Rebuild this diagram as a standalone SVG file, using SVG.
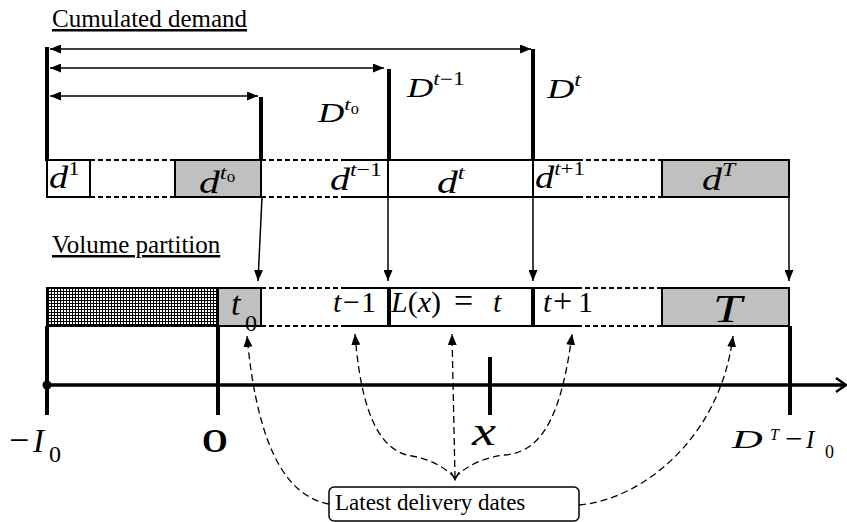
<svg xmlns="http://www.w3.org/2000/svg" width="847" height="522" viewBox="0 0 847 522">
<defs>
<style>
text{font-family:"Liberation Serif","Times New Roman",serif;fill:#000}
.lbl{font-size:25px;text-decoration:underline}
.it{font-style:italic}
.up{font-style:normal}
.cell{stroke:#000;stroke-width:2;fill:none}
.gray{fill:#c0c0c0;stroke:#000;stroke-width:2}
.dash{stroke:#000;stroke-width:2;stroke-dasharray:5 3;fill:none}
.thick{stroke:#000;stroke-width:4}
.arr{stroke:#000;stroke-width:1.5;fill:none}
.cur{stroke:#000;stroke-width:1.3;fill:none;stroke-dasharray:7 4}
</style>
<marker id="ah" markerUnits="userSpaceOnUse" markerWidth="11" markerHeight="9" refX="11" refY="4.5" orient="auto-start-reverse">
<path d="M0,0 L11,4.5 L0,9 z" fill="#000"/>
</marker>
<pattern id="hatch" width="3" height="3" patternUnits="userSpaceOnUse">
<rect width="3" height="3" fill="#fff"/>
<path d="M0,0.5 H3 M0.5,0 V3" stroke="#000" stroke-width="1"/>
</pattern>
</defs>
<rect width="847" height="522" fill="#fff"/>

<g id="titles">
<text class="lbl" x="52" y="27">Cumulated demand</text>
<text class="lbl" x="52" y="253">Volume partition</text>
</g>

<g id="cumulative-marks">
<line class="thick" x1="47" y1="47" x2="47" y2="161"/>
<line class="thick" x1="261" y1="97" x2="261" y2="161"/>
<line class="thick" x1="389" y1="69" x2="389" y2="161"/>
<line class="thick" x1="533" y1="49" x2="533" y2="161"/>
<g transform="translate(318,122) scale(1.35,1)"><text class="it" font-size="27">D<tspan font-size="17" dy="-12">t</tspan><tspan class="up" font-size="12" dy="4">0</tspan></text></g>
<g transform="translate(407,97) scale(1.3,1)"><text class="it" font-size="28">D<tspan font-size="18" dy="-12">t</tspan><tspan class="up" font-size="18">−1</tspan></text></g>
<g transform="translate(547,98) scale(1.35,1)"><text class="it" font-size="28">D<tspan font-size="18" dy="-12">t</tspan></text></g>
</g>

<g id="demand-row">
<rect class="cell" x="47" y="160" width="43" height="37"/>
<line class="dash" x1="90" y1="160" x2="175" y2="160"/>
<line class="dash" x1="90" y1="197" x2="175" y2="197"/>
<rect class="gray" x="175" y="160" width="86" height="37"/>
<line class="dash" x1="261" y1="160" x2="342" y2="160"/>
<line class="dash" x1="261" y1="197" x2="342" y2="197"/>
<line class="cell" x1="342" y1="160" x2="388" y2="160"/>
<line class="cell" x1="342" y1="197" x2="388" y2="197"/>
<rect class="cell" x="388" y="160" width="145" height="37"/>
<line class="cell" x1="533" y1="160" x2="578" y2="160"/>
<line class="cell" x1="533" y1="197" x2="578" y2="197"/>
<line class="dash" x1="578" y1="160" x2="662" y2="160"/>
<line class="dash" x1="578" y1="197" x2="662" y2="197"/>
<rect class="gray" x="662" y="160" width="127" height="37"/>
<g transform="translate(49,188) scale(1.2,1)"><text class="it" font-size="32">d<tspan class="up" font-size="19" dy="-13">1</tspan></text></g>
<g transform="translate(199,193) scale(1.3,1)"><text class="it" font-size="32">d<tspan font-size="19" dy="-14">t</tspan><tspan class="up" font-size="13" dy="3">0</tspan></text></g>
<g transform="translate(330,190) scale(1.25,1)"><text class="it" font-size="32">d<tspan font-size="19" dy="-14">t</tspan><tspan class="up" font-size="19">−1</tspan></text></g>
<g transform="translate(437,193) scale(1.3,1)"><text class="it" font-size="32">d<tspan font-size="19" dy="-14">t</tspan></text></g>
<g transform="translate(535,188) scale(1.2,1)"><text class="it" font-size="32">d<tspan font-size="19" dy="-13">t</tspan><tspan class="up" font-size="19">+1</tspan></text></g>
<g transform="translate(702,190) scale(1.25,1)"><text class="it" font-size="32">d<tspan font-size="19" dy="-14">T</tspan></text></g>
</g>

<g id="partition-row">
<rect x="47" y="288" width="171" height="38" fill="url(#hatch)" stroke="#000" stroke-width="2"/>
<rect class="gray" x="218" y="288" width="43" height="38"/>
<line class="dash" x1="261" y1="288" x2="343" y2="288"/>
<line class="dash" x1="261" y1="326" x2="343" y2="326"/>
<line class="cell" x1="343" y1="288" x2="388" y2="288"/>
<line class="cell" x1="343" y1="326" x2="388" y2="326"/>
<rect class="cell" x="388" y="288" width="145" height="38"/>
<line class="thick" x1="389" y1="287" x2="389" y2="327" stroke-width="3"/>
<line class="thick" x1="533" y1="287" x2="533" y2="327" stroke-width="3"/>
<line class="cell" x1="533" y1="288" x2="577" y2="288"/>
<line class="cell" x1="533" y1="326" x2="577" y2="326"/>
<line class="dash" x1="577" y1="288" x2="662" y2="288"/>
<line class="dash" x1="577" y1="326" x2="662" y2="326"/>
<rect class="gray" x="662" y="288" width="127" height="38"/>
<text class="it" x="231" y="315" font-size="34">t</text>
<text x="245" y="331" font-size="24">0</text>
<text font-size="30" y="312"><tspan class="it" x="333">t</tspan><tspan x="343">−</tspan><tspan x="361">1</tspan></text>
<text font-size="30" y="312" x="391"><tspan class="it">L</tspan>(<tspan class="it">x</tspan>)<tspan x="454" font-size="34">=</tspan><tspan class="it" x="493">t</tspan></text>
<text font-size="30" y="312"><tspan class="it" x="543">t</tspan><tspan x="553" font-size="34">+</tspan><tspan x="578">1</tspan></text>
<g transform="translate(713,322) scale(1.3,1)"><text class="it" font-size="40">T</text></g>
</g>

<g id="axis">
<line x1="47" y1="385" x2="845" y2="385" stroke="#000" stroke-width="3.5"/>
<polyline points="836,378 846,385 836,392" fill="none" stroke="#000" stroke-width="2.5"/>
<circle cx="47" cy="385" r="4.5" fill="#000"/>
<line class="thick" x1="47" y1="326" x2="47" y2="415"/>
<line class="thick" x1="218" y1="326" x2="218" y2="415"/>
<line class="thick" x1="490" y1="357" x2="490" y2="415"/>
<line class="thick" x1="790" y1="326" x2="790" y2="415"/>
<text x="9" y="452" font-size="36">−</text>
<text class="it" x="33" y="452" font-size="33">I</text>
<text x="49" y="462" font-size="24">0</text>
<text x="202" y="452" font-size="33" font-weight="bold">O</text>
<g transform="translate(472,445) scale(1.35,1)"><text class="it" font-size="40">x</text></g>
<g transform="translate(732,448) scale(1.7,1)"><text class="it" font-size="25">D</text></g>
<text class="it" x="770" y="440" font-size="16">T</text>
<text x="785" y="449" font-size="31">−</text>
<text class="it" x="806" y="448" font-size="25">I</text>
<text x="825" y="458" font-size="18">0</text>
</g>

<g id="note">
<rect x="329" y="487" width="250" height="34" rx="5" fill="#fff" stroke="#000" stroke-width="1.5"/>
<text x="335" y="510" font-size="23">Latest delivery dates</text>
</g>

<g id="connectors">
<line class="arr" x1="50" y1="49" x2="531" y2="49" marker-start="url(#ah)" marker-end="url(#ah)"/>
<line class="arr" x1="50" y1="68" x2="384" y2="68" marker-start="url(#ah)" marker-end="url(#ah)"/>
<line class="arr" x1="50" y1="96" x2="258" y2="96" marker-start="url(#ah)" marker-end="url(#ah)"/>
<line class="arr" x1="262" y1="197" x2="258" y2="281" marker-end="url(#ah)"/>
<line class="arr" x1="388" y1="197" x2="388" y2="281" marker-end="url(#ah)"/>
<line class="arr" x1="533" y1="197" x2="533" y2="281" marker-end="url(#ah)"/>
<line class="arr" x1="789" y1="197" x2="789" y2="281" marker-end="url(#ah)"/>
<path class="cur" d="M329,504 C290,497 258,455 247,336" marker-end="url(#ah)"/>
<path class="cur" d="M455,478 C446,468 430,459 412,456 C385,452 362,425 355,334" marker-end="url(#ah)"/>
<path class="cur" d="M455,478 L452,334" marker-end="url(#ah)"/>
<path class="cur" d="M455,478 C465,466 485,457 505,455 C535,452 560,430 572,334" marker-end="url(#ah)"/>
<path class="cur" d="M579,505 C640,500 720,440 733,336" marker-end="url(#ah)"/>
<polyline points="451,472 455,480 459,472" fill="none" stroke="#000" stroke-width="1.2"/>
</g>
</svg>
